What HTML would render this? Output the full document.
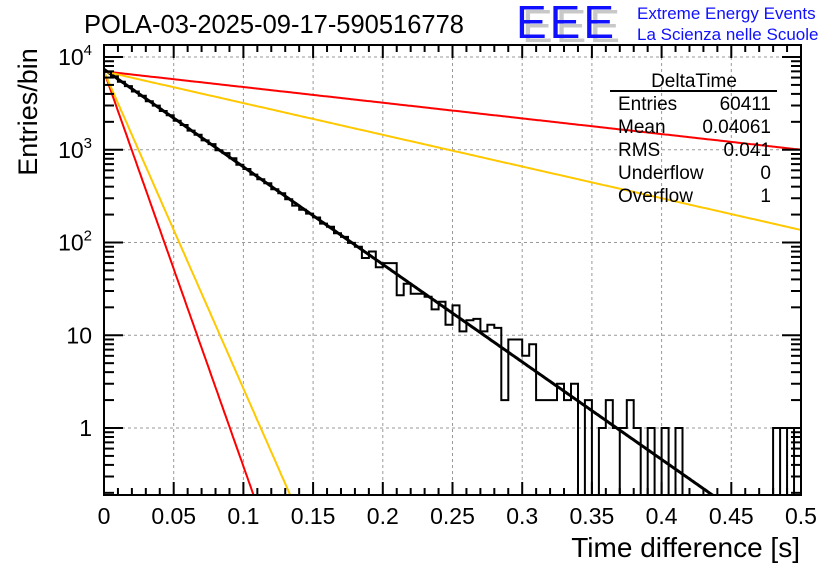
<!DOCTYPE html>
<html><head><meta charset="utf-8"><style>
html,body{margin:0;background:#fff;overflow:hidden;width:836px;height:572px;}
svg{display:block;}
svg text{font-family:"Liberation Sans",sans-serif;}
</style></head><body>
<svg id="c" width="836" height="572" xmlns="http://www.w3.org/2000/svg">
<text x="84" y="33" font-size="25.5">POLA-03-2025-09-17-590516778</text>
<g>
<text x="522" y="42" font-size="46" fill="#c8c8c8" letter-spacing="3">EEE</text>
<text x="516" y="38" font-size="46" fill="#1010ff" letter-spacing="3">EEE</text>
<text x="637" y="19" font-size="17" fill="#1010ff">Extreme Energy Events</text>
<text x="637" y="40" font-size="17" fill="#1010ff">La Scienza nelle Scuole</text>
</g>
<text transform="translate(37,112) rotate(-90)" text-anchor="middle" font-size="27">Entries/bin</text>
<text x="800" y="557" text-anchor="end" font-size="28">Time difference [s]</text>
<g id="grid"></g><g id="marks"></g><g id="axes"></g>
<g font-size="19">
<text x="694" y="87" text-anchor="middle">DeltaTime</text>
<line x1="610" y1="91" x2="777" y2="91" stroke="#000" stroke-width="2"/>
<text x="618" y="110">Entries</text><text x="771" y="110" text-anchor="end">60411</text>
<text x="618" y="133">Mean</text><text x="771" y="133" text-anchor="end">0.04061</text>
<text x="618" y="156">RMS</text><text x="771" y="156" text-anchor="end">0.041</text>
<text x="618" y="179">Underflow</text><text x="771" y="179" text-anchor="end">0</text>
<text x="618" y="202">Overflow</text><text x="771" y="202" text-anchor="end">1</text>
</g>
</svg>
<script>
const binCounts=[6900,6180,5400,4850,4250,3820,3330,2990,2620,2360,2050,1850,1610,1450,1260,1150,990,920,810,690,620,540,480,435,375,340,292,250,225,205,186,160,148,126,115,99,90,68,80,54,60,60,27,36,28,28,26,19,23,13,21,11,14.5,15,11,13,12,2,9,9,6,8,2,2,2,3,2,3,0,2,0,1,2,1,1,2,1,0,1,0,1,0,1,0,0,0,0,0,0,0,0,0,0,0,0,0,1,1,1,1];
const fitAmps=[7367,7000,7000,7000,7000];
const fitTaus=[0.0413,0.257,0.127,0.0102,0.0127];
const fitColors=["#000","#ff0000","#ffc800","#ff0000","#ffc800"];
const xTicks=["0","0.05","0.1","0.15","0.2","0.25","0.3","0.35","0.4","0.45","0.5"];
const yDecades=[0,1,2,3,4];
const binW=0.005, X0=104, X1=801, T=45, B=495;
const NS="http://www.w3.org/2000/svg";
const xs=v=>X0+(X1-X0)*v/0.5;
const ys=v=>428-92.75*Math.log10(v);
function mk(p,tag,a){const e=document.createElementNS(NS,tag);for(const k in a)e.setAttribute(k,a[k]);p.appendChild(e);return e;}
const grid=document.getElementById('grid'),marks=document.getElementById('marks'),axes=document.getElementById('axes');
xTicks.forEach((t,i)=>{const x=xs(i*0.05);if(i>0&&i<10){const l=mk(grid,'line',{x1:x,x2:x,y1:T,y2:B,stroke:'#999','stroke-dasharray':'3,3'});

}});
yDecades.forEach(d=>{const y=ys(Math.pow(10,d));const l=mk(grid,'line',{x1:X0,x2:X1,y1:y,y2:y,stroke:'#999','stroke-dasharray':'3,3'});

});
const defs=mk(marks,'defs',{});const cp=mk(defs,'clipPath',{id:'cl'});mk(cp,'rect',{x:X0,y:T,width:X1-X0,height:B-T});
const mg=mk(marks,'g',{'clip-path':'url(#cl)'});
fitAmps.forEach((A,k)=>{let d='';for(let i=0;i<=400;i++){const x=0.5*i/400;const v=A*Math.exp(-x/fitTaus[k]);d+=(i?'L':'M')+xs(x).toFixed(1)+' '+Math.min(ys(Math.max(v,1e-3)),B+5).toFixed(1);}
const p=mk(mg,'path',{d:d,fill:'none',stroke:fitColors[k],'stroke-width':k==0?3:2});

});
const yv=v=>v>0?ys(v):B+5;
let d='M'+xs(0)+' '+(B+5);
binCounts.forEach((c,i)=>{const x0=xs(i*binW),x1=xs((i+1)*binW);d+='L'+x0.toFixed(1)+' '+yv(c).toFixed(1)+'L'+x1.toFixed(1)+' '+yv(c).toFixed(1);});
d+='L'+xs(0.5)+' '+(B+5);
const h=mk(mg,'path',{d:d,fill:'none',stroke:'#000','stroke-width':2});


binCounts.forEach((c,i)=>{if(i>0&&c>0&&c<=1&&binCounts[i-1]>0&&binCounts[i-1]<=1){const x=xs(i*binW);const l=mk(mg,'line',{x1:x,x2:x,y1:ys(1),y2:B,stroke:'#000','stroke-width':2});

}});
const fr=mk(axes,'rect',{x:X0,y:T,width:X1-X0,height:B-T,fill:'none',stroke:'#000','stroke-width':2});


for(let i=0;i<=50;i++){const x=xs(i*0.01);const L=i%5==0?13:7;mk(axes,'line',{x1:x,x2:x,y1:B,y2:B-L,stroke:'#000','stroke-width':2});mk(axes,'line',{x1:x,x2:x,y1:T,y2:T+L,stroke:'#000','stroke-width':2});}
xTicks.forEach((t,i)=>{const e=mk(axes,'text',{x:xs(i*0.05),y:524,'text-anchor':'middle','font-size':23});e.textContent=t;

});
for(let d=-1;d<=4;d++)for(let m=1;m<=9;m++){const v=m*Math.pow(10,d);const y=ys(v);if(y<T||y>B)continue;const L=m==1?19:10;
mk(axes,'line',{x1:X0,x2:X0+L,y1:y,y2:y,stroke:'#000','stroke-width':2});mk(axes,'line',{x1:X1,x2:X1-L,y1:y,y2:y,stroke:'#000','stroke-width':2});}
yDecades.forEach(dd=>{const y=ys(Math.pow(10,dd))+8;const e=mk(axes,'text',{x:92,y:y,'text-anchor':'end','font-size':23});
if(dd==0)e.textContent='1';else if(dd==1)e.textContent='10';else{e.textContent='10';const s=mk(e,'tspan',{'font-size':15,dy:-10});s.textContent=String(dd);}

});
</script>
</body></html>
